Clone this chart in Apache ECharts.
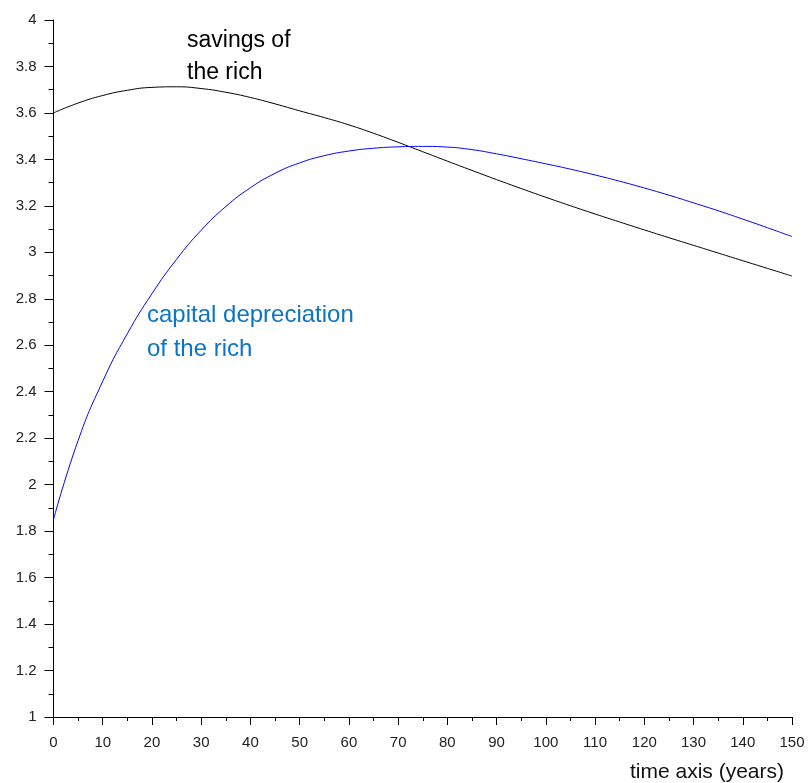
<!DOCTYPE html>
<html>
<head>
<meta charset="utf-8">
<script src="https://cdn.jsdelivr.net/npm/echarts@6/dist/echarts.min.js"></script>
<style>html,body{margin:0;padding:0;background:#fff}#c{width:808px;height:783px}</style>
</head>
<body>
<div id="c"></div>
<script>
const years = [0,5,10,15,20,25,30,35,40,45,50,55,60,65,70,75,80,85,90,95,100,105,110,115,120,125,130,135,140,145,150];
const savingsRich = [3.600,3.6425,3.675,3.6975,3.710,3.7125,3.705,3.689,3.6665,3.639,3.609,3.580,3.5485,3.5125,3.4735,3.433,3.3925,3.3525,3.313,3.2745,3.237,3.2005,3.165,3.1305,3.0965,3.063,3.030,2.997,2.964,2.931,2.898];
const deprecRich = [1.850,2.190,2.445,2.650,2.822,2.970,3.095,3.197,3.278,3.340,3.385,3.416,3.436,3.448,3.454,3.456,3.453,3.442,3.424,3.403,3.381,3.358,3.333,3.306,3.277,3.246,3.213,3.179,3.143,3.106,3.068];
const xTicks = {min:0, max:150, step:10};
const yTicks = {min:1, max:4, step:0.2};

const chart = echarts.init(document.getElementById('c'), null, {renderer:'canvas'});
const font = 'Liberation Sans, Arial, sans-serif';
function axisCommon(major, minor, margin){
  return {
    axisLine:{show:true, onZero:false, lineStyle:{color:'#000', width:1}},
    axisTick:{show:true, inside:false, length:major, lineStyle:{color:'#000', width:1}},
    minorTick:{show:true, splitNumber:2, length:minor, lineStyle:{color:'#000', width:1}},
    splitLine:{show:false},
    minorSplitLine:{show:false},
    axisLabel:{color:'#222', fontSize:15, fontFamily:font, margin:margin}
  };
}
chart.setOption({
  animation:false,
  grid:{left:53.5, right:16, top:20, bottom:66, containLabel:false},
  xAxis:Object.assign({type:'value', min:xTicks.min, max:xTicks.max, interval:xTicks.step}, axisCommon(8,4,18)),
  yAxis:Object.assign({type:'value', min:yTicks.min, max:yTicks.max, interval:yTicks.step}, axisCommon(9,5,17)),
  series:[
    {type:'line', data:years.map((x,i)=>[x,savingsRich[i]]), smooth:true, showSymbol:false, lineStyle:{color:'#000', width:1}},
    {type:'line', data:years.map((x,i)=>[x,deprecRich[i]]), smooth:true, showSymbol:false, lineStyle:{color:'#0000ff', width:1}}
  ],
  graphic:[
    {type:'text', x:187, y:41, style:{text:'savings of', fill:'#000', font:'23px '+font, verticalAlign:'middle', align:'left'}},
    {type:'text', x:187, y:73, style:{text:'the rich', fill:'#000', font:'23px '+font, verticalAlign:'middle', align:'left'}},
    {type:'text', x:147, y:315, style:{text:'capital depreciation', fill:'#0b74c4', font:'24px '+font, verticalAlign:'middle', align:'left'}},
    {type:'text', x:147, y:349, style:{text:'of the rich', fill:'#0b74c4', font:'24px '+font, verticalAlign:'middle', align:'left'}},
    {type:'text', x:784, y:772, style:{text:'time axis (years)', fill:'#111', font:'21px '+font, verticalAlign:'middle', align:'right'}}
  ]
});
</script>
</body>
</html>
